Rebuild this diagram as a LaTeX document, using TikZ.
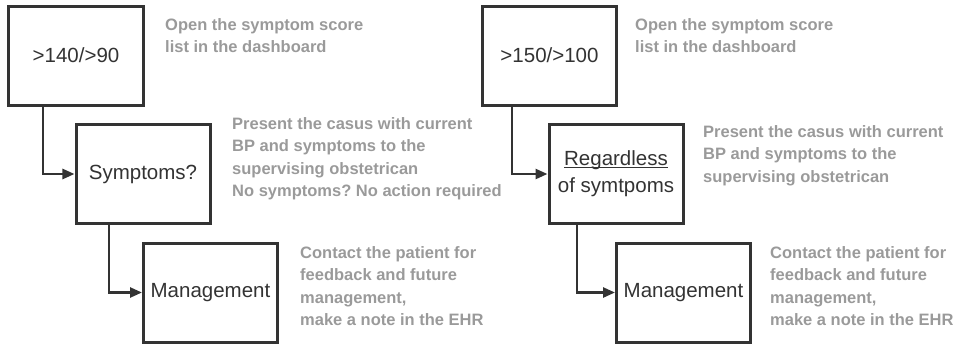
\documentclass[tikz,border=0pt]{standalone}
\usepackage{fontspec}
\setmainfont{Liberation Sans}
\usetikzlibrary{arrows.meta}
\definecolor{boxline}{HTML}{333333}
\definecolor{note}{HTML}{9A9A9A}
\frenchspacing
\tikzset{
  stepbox/.style={draw=boxline, line width=3bp, fill=white, minimum width=134bp, minimum height=99bp, inner sep=0pt, text=boxline, font=\fontsize{20.5bp}{27bp}\selectfont, align=center},
  notetext/.style={anchor=north west, inner sep=0pt, text=note, align=left, font=\fontsize{16.5bp}{22.5bp}\selectfont\bfseries},
  link/.style={draw=boxline, line width=2.5bp, -{Triangle[length=12bp,width=10bp]}},
}
\begin{document}
\begin{tikzpicture}[x=1bp,y=-1bp]
\useasboundingbox (0,0) rectangle (961,347);
% left column
\node[stepbox] (a1) at (76,56) {\raisebox{2bp}{>140/>90}};
\node[stepbox] (a2) at (143,174) {Symptoms?};
\node[stepbox] (a3) at (210.5,292.5) {Management};
\coordinate (a1d) at (43,107);
\coordinate (a2d) at (109,225);
\draw[link] (a1d) |- (a2.west);
\draw[link] (a2d) |- (a3.west);
\node[notetext] (n1) at (165,18) {Open the symptom score\\list in the dashboard};
\node[notetext] (n2) at (232,117) {Present the casus with current\\BP and symptoms to the\\supervising obstetrican\\No symptoms? No action required};
\node[notetext] (n3) at (300,246) {Contact the patient for\\feedback and future\\management,\\make a note in the EHR};
% right column
\node[stepbox] (b1) at (549.5,56) {\raisebox{2bp}{>150/>100}};
\node[stepbox] (b2) at (616,174) {\underline{\smash{Regardless}}\vphantom{Regardless}\\of symtpoms};
\node[stepbox] (b3) at (683.5,292.5) {Management};
\coordinate (b1d) at (512,107);
\coordinate (b2d) at (577,225);
\draw[link] (b1d) |- (b2.west);
\draw[link] (b2d) |- (b3.west);
\node[notetext] (m1) at (635,18) {Open the symptom score\\list in the dashboard};
\node[notetext] (m2) at (703,125) {Present the casus with current\\BP and symptoms to the\\supervising obstetrican};
\node[notetext] (m3) at (770,246) {Contact the patient for\\feedback and future\\management,\\make a note in the EHR};
\end{tikzpicture}
\end{document}
